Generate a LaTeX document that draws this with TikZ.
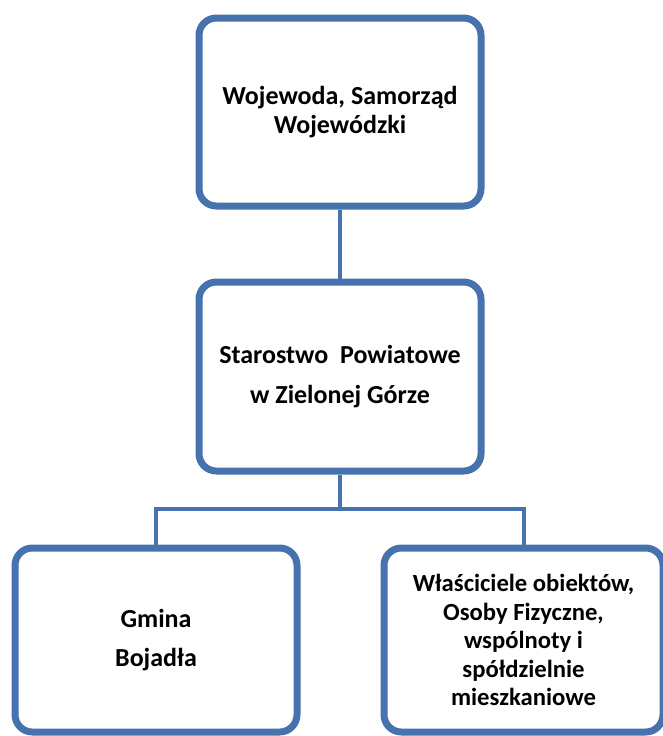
\documentclass[tikz,border=0pt]{standalone}
\usepackage{fontspec}
\setmainfont{Carlito}
\usetikzlibrary{shadows}
\definecolor{boxblue}{RGB}{70,114,174}

\begin{document}
\begin{tikzpicture}[
 x=0.75pt,y=-0.75pt,
 align=center,
 font=\fontsize{19.5}{22}\selectfont\bfseries,
 unit/.style={draw=boxblue,line width=5.25pt,rounded corners=13pt,fill=white,
  rectangle,inner sep=0pt,
  drop shadow={opacity=0.25,shadow xshift=1.5pt,shadow yshift=-2pt}},
 link/.style={draw=boxblue,line width=3pt}
]
\useasboundingbox (0,0) rectangle (662,736);
\node (voivode) [unit,minimum width=211.5pt,minimum height=141pt] at (340,112)
 {Wojewoda, Samorząd\\Wojewódzki};
\node (county) [unit,minimum width=211.5pt,minimum height=141.75pt] at (340,376.5)
 {Starostwo\ \ Powiatowe\\[8pt]w Zielonej Górze};
\node (gmina) [unit,minimum width=211.5pt,minimum height=138pt] at (156,640)
 {Gmina\\[7pt]Bojadła};
\node (owners) [unit,minimum width=209.25pt,minimum height=138pt,
 font=\fontsize{18.5}{21.4}\selectfont\bfseries] at (523.5,640)
 {Właściciele obiektów,\\Osoby Fizyczne,\\wspólnoty i\\spółdzielnie\\mieszkaniowe};
\coordinate (split) at (340,509);
% connectors
\draw [link] (voivode.south) -- (county.north);
\draw [link] (county.south) -- (split) -| (gmina.north);
\draw [link] (split) -| (owners.north);
\end{tikzpicture}
\end{document}
